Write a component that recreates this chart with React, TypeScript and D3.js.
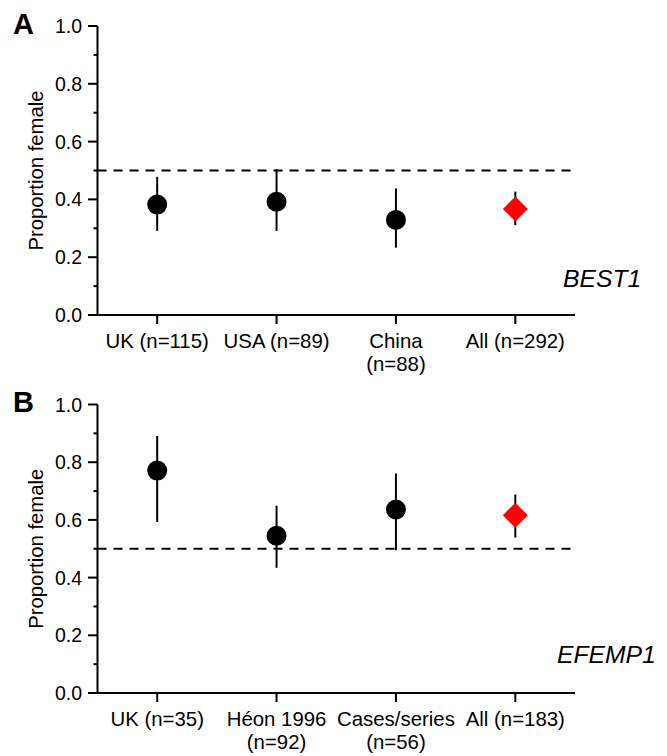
import React from "react";
import * as d3 from "d3";

// ---- Data ----
const panelACategories = ["UK (n=115)", "USA (n=89)", "China\n(n=88)", "All (n=292)"];
const panelAValues = [0.382, 0.392, 0.329, 0.367];
const panelALower = [0.291, 0.291, 0.233, 0.311];
const panelAUpper = [0.478, 0.504, 0.438, 0.427];

const panelBCategories = ["UK (n=35)", "Héon 1996\n(n=92)", "Cases/series\n(n=56)", "All (n=183)"];
const panelBValues = [0.771, 0.545, 0.636, 0.616];
const panelBLower = [0.593, 0.434, 0.495, 0.539];
const panelBUpper = [0.891, 0.649, 0.761, 0.688];

const majorTicks = [0, 0.2, 0.4, 0.6, 0.8, 1.0];
const minorTicks = [0.1, 0.3, 0.5, 0.7, 0.9];
const referenceValue = 0.5;
const yLabel = "Proportion female";

const FONT = "'Liberation Sans', Arial, Helvetica, sans-serif";

type PanelProps = {
  letter: string;
  gene: string;
  categories: string[];
  values: number[];
  lower: number[];
  upper: number[];
  top: number;
  bottom: number;
  geneX: number;
  geneY: number;
};

const X0 = 97.5;
const X1 = 575;

function Panel({ letter, gene, categories, values, lower, upper, top, bottom, geneX, geneY }: PanelProps) {
  const y = d3.scaleLinear().domain([0, 1]).range([bottom, top]);
  const x = d3.scalePoint<string>().domain(categories).range([X0, X1]).padding(0.5);
  const circlePath = d3.symbol(d3.symbolCircle, Math.PI * 10 * 10)() as string;
  const diamondPath = d3.symbol(d3.symbolSquare, 312)() as string;
  const last = categories.length - 1;

  return (
    <g>
      <text x={13} y={top + 7.5} fontFamily={FONT} fontWeight="bold" fontSize={29} fill="#000">
        {letter}
      </text>
      {/* y label */}
      <text
        transform={`translate(${42.5},${(top + bottom) / 2}) rotate(-90)`}
        textAnchor="middle"
        fontFamily={FONT}
        fontSize={20.3}
        fill="#000"
      >
        {yLabel}
      </text>
      {/* reference line */}
      <line
        x1={X0}
        x2={X1}
        y1={y(referenceValue)}
        y2={y(referenceValue)}
        stroke="#000"
        strokeWidth={2}
        strokeDasharray="9,7"
      />
      {/* axes */}
      <line x1={X0} x2={X0} y1={top} y2={bottom + 1} stroke="#000" strokeWidth={2} />
      <line x1={X0 - 1} x2={X1} y1={bottom} y2={bottom} stroke="#000" strokeWidth={2} />
      {majorTicks.map((t) => (
        <g key={"M" + t}>
          <line x1={X0 - 9.5} x2={X0} y1={y(t)} y2={y(t)} stroke="#000" strokeWidth={2} />
          <text
            x={82}
            y={y(t)}
            dy="0.36em"
            textAnchor="end"
            fontFamily={FONT}
            fontSize={19.5}
            fill="#000"
          >
            {d3.format(".1f")(t)}
          </text>
        </g>
      ))}
      {minorTicks.map((t) => (
        <line key={"m" + t} x1={X0 - 4} x2={X0} y1={y(t)} y2={y(t)} stroke="#000" strokeWidth={2} />
      ))}
      {categories.map((c) => (
        <g key={c}>
          <line x1={x(c)} x2={x(c)} y1={bottom} y2={bottom + 9} stroke="#000" strokeWidth={2} />
          {c.split("\n").map((line, i) => (
            <text
              key={i}
              x={x(c)}
              y={bottom + 32.5 + i * 23.5}
              textAnchor="middle"
              fontFamily={FONT}
              fontSize={20.4}
              fill="#000"
            >
              {line}
            </text>
          ))}
        </g>
      ))}
      {/* error bars */}
      {categories.map((c, i) => (
        <line
          key={"e" + c}
          x1={x(c)}
          x2={x(c)}
          y1={y(lower[i])}
          y2={y(upper[i])}
          stroke="#000"
          strokeWidth={2}
        />
      ))}
      {/* markers */}
      {categories.map((c, i) =>
        i === last ? (
          <path
            key={"p" + c}
            d={diamondPath}
            transform={`translate(${x(c)},${y(values[i])}) rotate(45)`}
            fill="#ff0000"
          />
        ) : (
          <path key={"p" + c} d={circlePath} transform={`translate(${x(c)},${y(values[i])})`} fill="#000" />
        )
      )}
      <text x={geneX} y={geneY} fontFamily={FONT} fontStyle="italic" fontSize={24.7} fill="#000">
        {gene}
      </text>
    </g>
  );
}

export default function App() {
  return (
    <svg
      width={667}
      height={756}
      style={{ position: "absolute", left: 0, top: 0, background: "#fff" }}
    >
      <rect width={667} height={756} fill="#fff" />
      <Panel
        letter="A"
        gene="BEST1"
        categories={panelACategories}
        values={panelAValues}
        lower={panelALower}
        upper={panelAUpper}
        top={26}
        bottom={315}
        geneX={563}
        geneY={287}
      />
      <Panel
        letter="B"
        gene="EFEMP1"
        categories={panelBCategories}
        values={panelBValues}
        lower={panelBLower}
        upper={panelBUpper}
        top={404.5}
        bottom={693}
        geneX={557}
        geneY={663}
      />
    </svg>
  );
}
